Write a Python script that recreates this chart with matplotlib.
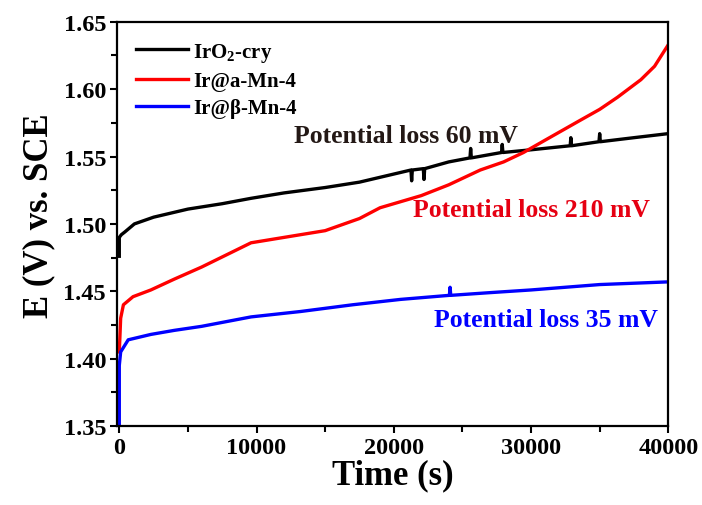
import matplotlib
matplotlib.use('Agg')
import matplotlib.pyplot as plt

# values (time in s, potential in V vs. SCE)
t_iro2 = [0, 0, 150, 400, 1100, 2500, 5000, 7500, 9600, 12000, 15000, 17500,
          20000, 21250, 21300, 21350, 22150, 22200, 22250, 24000, 25550, 25600,
          25650, 27850, 27900, 27950, 30000, 32850, 32900, 32950, 34950, 35000,
          35050, 37500, 40000]
e_iro2 = [1.476, 1.490, 1.492, 1.494, 1.500, 1.505, 1.511, 1.515, 1.519, 1.523,
          1.527, 1.531, 1.537, 1.540, 1.532, 1.540, 1.541, 1.533, 1.541, 1.546,
          1.549, 1.556, 1.549, 1.553, 1.559, 1.553, 1.555, 1.558, 1.564, 1.558,
          1.561, 1.567, 1.561, 1.564, 1.567]

t_amn = [0, 100, 300, 1000, 2300, 4000, 6000, 8000, 9600, 12000, 15000, 17500,
         19000, 22000, 24000, 26300, 28000, 29450, 31000, 33600, 35000, 36300,
         38000, 39000, 40000]
e_amn = [1.405, 1.430, 1.440, 1.446, 1.451, 1.459, 1.468, 1.478, 1.486, 1.490,
         1.495, 1.504, 1.512, 1.521, 1.529, 1.540, 1.546, 1.553, 1.562, 1.577,
         1.585, 1.594, 1.607, 1.617, 1.633]

t_bmn = [0, 0, 100, 650, 2300, 4000, 6000, 9600, 13200, 17000, 20500, 24050,
         24100, 24150, 27000, 30000, 35000, 40000]
e_bmn = [1.350, 1.395, 1.405, 1.414, 1.418, 1.421, 1.424, 1.431, 1.435, 1.440,
         1.444, 1.447, 1.453, 1.447, 1.449, 1.451, 1.455, 1.457]

labels = ['IrO$_2$-cry', 'Ir@a-Mn-4', 'Ir@\u03b2-Mn-4']
colors = ['black', '#ff0000', '#0000ff']

# loss annotations: text, x, y (baseline), colour
notes = [('Potential loss 60 mV', 12700, 1.561, '#231815'),
         ('Potential loss 210 mV', 21400, 1.506, '#e60012'),
         ('Potential loss 35 mV', 22900, 1.4243, '#0000ff')]

plt.rcParams['font.family'] = ['Liberation Serif', 'DejaVu Serif']
plt.rcParams['font.weight'] = 'bold'
plt.rcParams['mathtext.fontset'] = 'custom'
plt.rcParams['mathtext.rm'] = 'Liberation Serif:bold'

fig = plt.figure(figsize=(7.02, 5.06), dpi=100)
ax = fig.add_axes([0.167, 0.156, 0.785, 0.799])

ax.plot(t_iro2, e_iro2, color=colors[0], lw=2.4, label=labels[0])
ax.plot(t_amn, e_amn, color=colors[1], lw=2.4, label=labels[1])
ax.plot(t_bmn, e_bmn, color=colors[2], lw=2.4, label=labels[2])

ax.set_xlim(-150, 40000)
ax.set_ylim(1.35, 1.65)
ax.set_xticks([0, 10000, 20000, 30000, 40000])
ax.set_xticks([5000, 15000, 25000, 35000], minor=True)
ax.set_yticks([1.35, 1.40, 1.45, 1.50, 1.55, 1.60, 1.65])
ax.set_yticks([1.375, 1.425, 1.475, 1.525, 1.575, 1.625], minor=True)
ax.set_yticklabels(['%.2f' % v for v in ax.get_yticks()])
ax.tick_params(which='both', direction='out', width=1.5, labelsize=17.5)
ax.tick_params(which='major', length=5, pad=3)
ax.tick_params(which='minor', length=4)
for s in ax.spines.values():
    s.set_linewidth(1.6)

ax.set_xlabel('Time (s)', fontsize=25, fontweight='bold', labelpad=0)
ax.set_ylabel('E (V) vs. SCE', fontsize=25, fontweight='bold', labelpad=6)
ax.yaxis.label.set_y(0.522)

for txt, x, y, c in notes:
    ax.text(x, y, txt, color=c, fontsize=18.5, fontweight='bold', va='baseline')

leg = ax.legend(loc='upper left', frameon=False, fontsize=15, handlelength=2.5,
                handletextpad=0.25, labelspacing=0.35, borderaxespad=0.5)
for line in leg.get_lines():
    line.set_linewidth(2.4)

fig.savefig('out.png', dpi=100)
